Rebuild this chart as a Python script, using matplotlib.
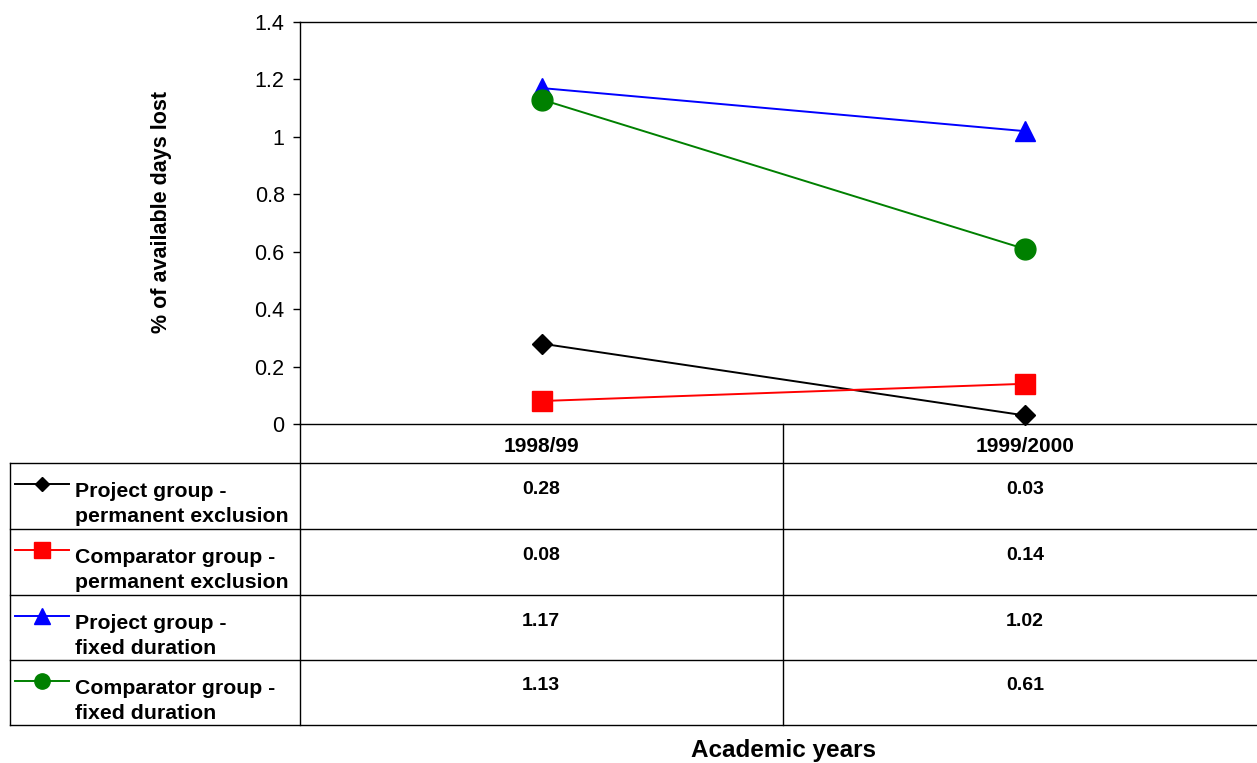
import matplotlib.pyplot as plt
from matplotlib.lines import Line2D

plt.rcParams['font.family'] = ['Liberation Sans', 'DejaVu Sans']

# Datos del gráfico
years = ['1998/99', '1999/2000']
project_perm = [0.28, 0.03]
comparator_perm = [0.08, 0.14]
project_fixed = [1.17, 1.02]
comparator_fixed = [1.13, 0.61]

series_labels = ['Project group -\npermanent exclusion',
                 'Comparator group -\npermanent exclusion',
                 'Project group -\nfixed duration',
                 'Comparator group -\nfixed duration']
series_values = [project_perm, comparator_perm, project_fixed, comparator_fixed]
series_colors = ['black', 'red', 'blue', 'green']
series_markers = ['D', 's', '^', 'o']
series_msize = [10.5, 15, 15, 15]
legend_msize = [7.5, 11, 11, 11]

W, H = 1257, 763
fig = plt.figure(figsize=(W / 100, H / 100), dpi=100)

def fx(px):
    return px / W

def fy(py):
    return 1 - py / H

# Área del gráfico (el borde derecho queda fuera de la imagen)
ax_left, ax_right, ax_top, ax_bottom = 300, 1266, 22, 424
ax = fig.add_axes([fx(ax_left), fy(ax_bottom), fx(ax_right - ax_left), (ax_bottom - ax_top) / H])

x = range(len(years))
for vals, c, m, ms in zip(series_values, series_colors, series_markers, series_msize):
    ax.plot(x, vals, color=c, marker=m, markersize=ms, linewidth=1.4, clip_on=False, zorder=3)

ax.set_xlim(-0.5, len(years) - 0.5)
ax.set_ylim(0, 1.4)
ax.set_yticks([0, 0.2, 0.4, 0.6, 0.8, 1.0, 1.2, 1.4])
ax.set_yticklabels(['0', '0.2', '0.4', '0.6', '0.8', '1', '1.2', '1.4'], fontsize=15.5)
ax.set_xticks([])
ax.tick_params(axis='y', length=5, width=1, pad=6)
ax.spines['right'].set_visible(False)
for s in ['left', 'top', 'bottom']:
    ax.spines[s].set_linewidth(1)

fig.text(fx(161), fy(212), '% of available days lost', rotation=90, fontsize=15.5,
         fontweight='bold', ha='center', va='center')

# Tabla de datos
row_lines = [463, 529, 595, 660, 725]
col_div = 783
for py in row_lines:
    fig.add_artist(Line2D([fx(10), 1], [fy(py), fy(py)], color='black', linewidth=1,
                          transform=fig.transFigure))
for px, top in [(10, 463), (300, 424), (col_div, 424)]:
    fig.add_artist(Line2D([fx(px), fx(px)], [fy(top), fy(725)], color='black', linewidth=1,
                          transform=fig.transFigure))

col_centers = [541, 1025]
for cx, yr in zip(col_centers, years):
    fig.text(fx(cx), fy(447), yr, fontsize=15, fontweight='bold', ha='center', va='center')

for i, (lab, vals, c, m, lms) in enumerate(zip(series_labels, series_values, series_colors,
                                               series_markers, legend_msize)):
    top = row_lines[i]
    ymark = top + 21
    fig.add_artist(Line2D([fx(15), fx(42), fx(69)], [fy(ymark)] * 3, color=c, linewidth=1.4,
                          marker=m, markersize=lms, markevery=[1], transform=fig.transFigure))
    fig.text(fx(75), fy(top + 41), lab, fontsize=15.3, fontweight='bold', ha='left', va='center',
             linespacing=1.42)
    for cx, v in zip(col_centers, vals):
        fig.text(fx(cx), fy(top + 26), f'{v:.2f}', fontsize=14, fontweight='bold',
                 ha='center', va='center')

fig.text(fx(783), fy(751), 'Academic years', fontsize=17.5, fontweight='bold', ha='center', va='center')

fig.savefig('out.png', dpi=100)
